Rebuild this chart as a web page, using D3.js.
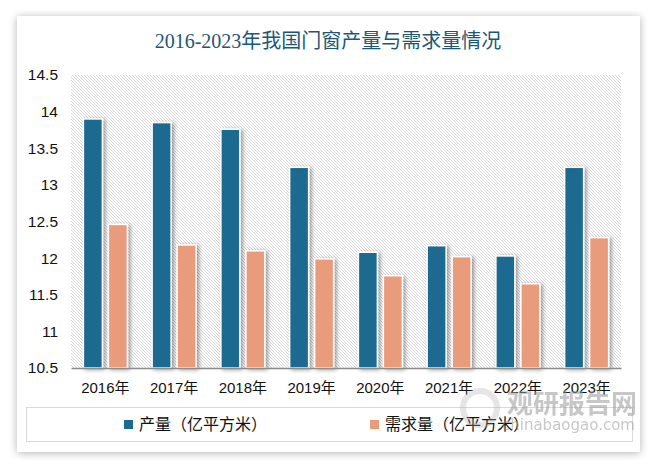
<!DOCTYPE html>
<html><head><meta charset="utf-8">
<script src="https://cdn.jsdelivr.net/npm/d3@7/dist/d3.min.js"></script>
<style>body{margin:0;background:#fff;}svg{display:block;}</style>
</head><body>
<script>
const categories = ["2016年","2017年","2018年","2019年","2020年","2021年","2022年","2023年"];
const production = [13.9, 13.85, 13.76, 13.24, 12.08, 12.17, 12.03, 13.24];
const demand = [12.46, 12.18, 12.1, 11.99, 11.76, 12.02, 11.65, 12.28];
const yTicks = [10.5, 11, 11.5, 12, 12.5, 13, 13.5, 14, 14.5];
const seriesNames = ["产量（亿平方米）", "需求量（亿平方米）"];
const colors = ["#1c6b8f", "#e89c7c"];
const title = "2016-2023年我国门窗产量与需求量情况";

(function(){
const W = 658, H = 469;
const svg = d3.select("body").append("svg").attr("width", W).attr("height", H);
const defs = svg.append("defs");
const cf = defs.append("filter").attr("id","cardShadow").attr("x","-10%").attr("y","-10%").attr("width","120%").attr("height","120%");
cf.append("feGaussianBlur").attr("in","SourceAlpha").attr("stdDeviation",4);
const bf = defs.append("filter").attr("id","barShadow").attr("x","-50%").attr("y","-20%").attr("width","200%").attr("height","140%");
bf.append("feDropShadow").attr("dx",2).attr("dy",1).attr("stdDeviation",2).attr("flood-color","#000").attr("flood-opacity",0.4);
const pat = defs.append("pattern").attr("id","hatch").attr("patternUnits","userSpaceOnUse").attr("width",3).attr("height",3);
pat.append("rect").attr("width",3).attr("height",3).attr("fill","#fff");
pat.append("path").attr("d","M-1,-1 L4,4 M-1,2 L1,4 M2,-1 L4,1").attr("stroke","#d6d6d6").attr("stroke-width",0.9);

// card
svg.append("rect").attr("x",17).attr("y",17).attr("width",623).attr("height",436).attr("fill","#000").attr("opacity",0.3).attr("filter","url(#cardShadow)");
svg.append("rect").attr("x",17).attr("y",16).attr("width",623).attr("height",436).attr("fill","#fff");

svg.append("text").attr("x",328).attr("y",48).attr("text-anchor","middle")
  .attr("font-family","'Liberation Serif','Noto Sans CJK SC',serif").attr("font-size",20)
  .attr("fill","#1d5776").text(title);

const pLeft = 71, pRight = 621, pTop = 75, pBottom = 368;
const x = d3.scaleBand().domain(categories).range([pLeft, pRight]);
const y = d3.scaleLinear().domain([10.5, 14.5]).range([pBottom, pTop]);

svg.append("rect").attr("x",pLeft).attr("y",pTop).attr("width",pRight-pLeft).attr("height",pBottom-pTop).attr("fill","url(#hatch)");

const barW = 19, gap = 6;
const offsets = [-(barW + gap/2), gap/2];
[production, demand].forEach((vals, si) => {
  svg.append("g").attr("filter","url(#barShadow)").selectAll("rect").data(vals).join("rect")
    .attr("x",(d,i)=> x(categories[i]) + x.bandwidth()/2 + offsets[si])
    .attr("y",d=>y(d))
    .attr("width",barW)
    .attr("height",d=>pBottom - y(d))
    .attr("fill",colors[si])
    .attr("stroke","#fff").attr("stroke-width",1.5);
});

// x axis
const xa = svg.append("g").attr("transform",`translate(0,${pBottom})`).call(d3.axisBottom(x).tickSize(0).tickPadding(14));
xa.select(".domain").attr("stroke","#8c8c8c").attr("stroke-width",1.5);
xa.selectAll("text").attr("font-family","'Liberation Sans','Noto Sans CJK SC',sans-serif").attr("font-size",15).attr("fill","#111");

// y axis
const ya = svg.append("g").attr("transform",`translate(${pLeft},0)`)
  .call(d3.axisLeft(y).tickValues(yTicks).tickSize(0).tickPadding(13).tickFormat(d3.format("~g")));
ya.select(".domain").remove();
ya.selectAll("text").attr("font-family","'Liberation Sans','Noto Sans',sans-serif").attr("font-size",15.5).attr("fill","#111");

// legend
svg.append("rect").attr("x",26.5).attr("y",407.5).attr("width",606).attr("height",34).attr("fill","none").attr("stroke","#d9d9d9");
const legX = [124, 370];
seriesNames.forEach((n,i)=>{
  svg.append("rect").attr("x",legX[i]).attr("y",420).attr("width",9).attr("height",9).attr("fill",colors[i]);
  svg.append("text").attr("x",legX[i]+15).attr("y",430).attr("font-family","'Noto Sans CJK SC',sans-serif")
    .attr("font-size",16).attr("fill","#111").text(n);
});

// watermark
svg.append("text").attr("x",507).attr("y",413).attr("font-family","'Noto Sans CJK SC',sans-serif").attr("font-weight","bold")
  .attr("font-size",26).attr("fill","#9a9a9a").attr("opacity",0.55).text("观研报告网");
svg.append("text").attr("x",502).attr("y",430).attr("font-family","'DejaVu Sans',sans-serif")
  .attr("font-size",15).attr("fill","#9a9a9a").attr("opacity",0.55).text("chinabaogao.com");
svg.append("circle").attr("cx",480).attr("cy",408).attr("r",17).attr("fill","none").attr("stroke","#aaa").attr("stroke-width",6).attr("opacity",0.3);
})();
</script>
</body></html>
